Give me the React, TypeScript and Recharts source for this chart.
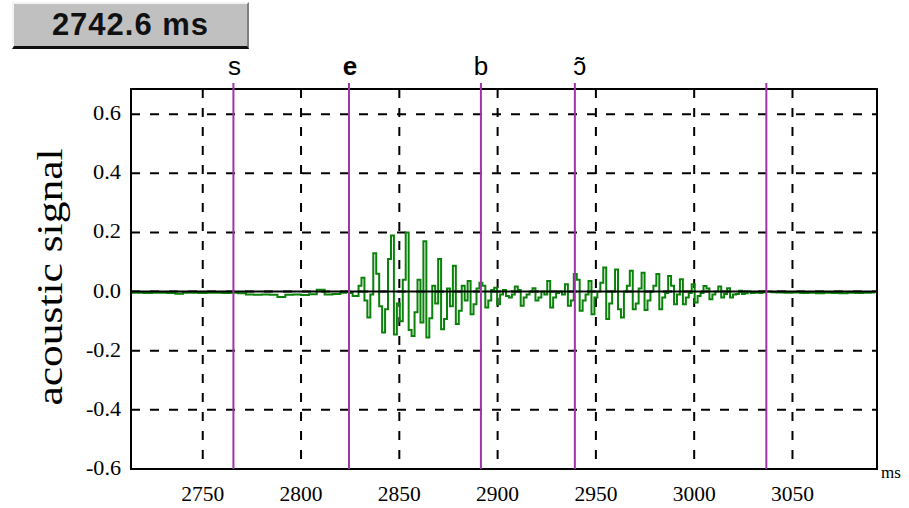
import React from 'react';
import {
  LineChart,
  Line,
  XAxis,
  YAxis,
  CartesianGrid,
  ReferenceLine,
  ReferenceArea,
} from 'recharts';

// time axis (ms) and amplitude axis
const X_DOMAIN: [number, number] = [2713.5, 3093];
const Y_DOMAIN: [number, number] = [-0.6, 0.685];
const xTicks = [2750, 2800, 2850, 2900, 2950, 3000, 3050];
const yTicks = [-0.6, -0.4, -0.2, 0, 0.2, 0.4, 0.6];

// segment boundaries and their phone labels
const boundaries = [2765.6, 2824.4, 2891.5, 2939.3, 3036.7];
const phones = ['s', 'e', 'b', 'ɔ̃', ''];

// silence / fricative before the vowel, one sample every 4 ms from 2714
const leadIn = [
  -0.004, -0.004, -0.005, -0.004, -0.004, -0.005, -0.007, -0.004, -0.004, -0.005,
  -0.004, -0.004, -0.005, -0.004, -0.006, -0.01, -0.011, -0.01, -0.011, -0.018,
  -0.011, -0.01, -0.012, -0.009, 0.006, -0.01, -0.008, -0.004,
];

// voiced part, one sample every 1.5 ms from 2824
const voiced = [
  0.0, -0.005, -0.015, -0.015, 0.02, 0.047, -0.03, -0.088, -0.01, 0.13,
  0.06, -0.05, -0.138, -0.06, 0.11, 0.19, -0.145, -0.04, -0.1, 0.04,
  0.2, -0.13, -0.15, -0.07, 0.04, -0.105, 0.17, -0.155, -0.09, 0.02,
  -0.04, 0.11, -0.127, -0.093, 0.01, -0.05, 0.087, -0.11, -0.065, 0.02,
  -0.03, 0.036, -0.077, -0.043, 0.01, 0.03, 0.02, -0.054, -0.03, 0.005,
  0.013, -0.043, -0.01, 0.005, -0.015, -0.02, -0.01, 0.017, 0.005, -0.048,
  -0.02, -0.01, 0.0, 0.011, -0.03, -0.02, 0.0, -0.01, 0.036, -0.054,
  -0.02, -0.005, 0.0, -0.01, 0.025, -0.048, -0.03, 0.059, 0.04, -0.065,
  -0.03, -0.01, 0.036, -0.077, -0.02, 0.0, 0.03, 0.081, -0.093, -0.04,
  0.0, 0.075, -0.06, -0.088, 0.0, 0.02, 0.07, -0.06, -0.04, 0.01,
  0.064, -0.062, -0.03, 0.0, 0.02, 0.059, -0.06, -0.02, -0.005, 0.053,
  0.02, -0.043, -0.01, 0.042, -0.043, -0.02, -0.005, 0.025, -0.037, -0.015,
  -0.005, 0.019, 0.01, -0.026, -0.01, 0.0, 0.017, -0.02, -0.008, 0.011,
  -0.02, -0.01, -0.008, 0.003, -0.008, -0.006, 0.0, -0.005, -0.004, -0.003,
  -0.005, -0.002, 0.0, 0.0,
];

// trailing silence, one sample every 4 ms from 3040
const tail = [
  -0.002, -0.003, -0.004, -0.003, -0.005, -0.004, -0.006, -0.004, -0.005, -0.006,
  -0.004, -0.005, -0.004, -0.003,
];

const segments = [
  { start: 2714, step: 4, values: leadIn },
  { start: 2824, step: 1.5, values: voiced },
  { start: 3040, step: 4, values: tail },
];

const signal = segments.flatMap((s) =>
  s.values.map((v, i) => ({ t: s.start + i * s.step, v })),
);

const PURPLE = '#a035a8';
const GREEN = '#0a820a';
const SERIF = "'Liberation Serif', 'Times New Roman', serif";
const SANS = "'Liberation Sans', 'DejaVu Sans', Arial, sans-serif";

// the amplitude labels are drawn a bit wider than the plain serif face
function labelWidth(s: string) {
  let w = 0;
  for (const c of s) w += c === '.' ? 6 : c === '-' ? 7 : 11;
  return w;
}

function YTick({ x, y, payload }: any) {
  const s = Number(payload.value).toFixed(1);
  return (
    <text
      x={x}
      y={y}
      dy={6}
      textAnchor="end"
      style={{ fontFamily: SERIF, fontSize: 20 }}
      fill="#000"
      textLength={labelWidth(s)}
      lengthAdjust="spacingAndGlyphs"
    >
      {s}
    </text>
  );
}

function PhoneLine({ x1, y1, y2, phone }: any) {
  const top = Math.min(y1, y2);
  const bottom = Math.max(y1, y2);
  const shift = phone === 'ɔ̃' ? 5 : phone === 'b' ? 0 : 1;
  return (
    <g>
      <line x1={x1} y1={top - 6} x2={x1} y2={bottom} stroke={PURPLE} strokeWidth={2} />
      {phone && (
        <text
          x={x1 + shift}
          y={top - 14}
          textAnchor="middle"
          style={{ fontFamily: SANS, fontSize: 26, fontWeight: phone === 'e' ? 700 : 400 }}
          fill="#000"
        >
          {phone}
        </text>
      )}
    </g>
  );
}

function AxisTitle({ viewBox }: any) {
  const cy = viewBox.y + viewBox.height / 2 - 2;
  return (
    <text
      transform={`translate(62, ${cy}) rotate(-90)`}
      textAnchor="middle"
      style={{ fontFamily: SERIF, fontSize: 36 }}
      fill="#000"
      textLength={257}
      lengthAdjust="spacingAndGlyphs"
    >
      acoustic signal
    </text>
  );
}

function UnitLabel({ viewBox }: any) {
  return (
    <text
      x={viewBox.x + viewBox.width + 4}
      y={viewBox.y + 9}
      style={{ fontFamily: SERIF, fontSize: 17 }}
      fill="#000"
    >
      ms
    </text>
  );
}

export default function App() {
  return (
    <div style={{ position: 'absolute', left: 0, top: 0, width: 909, height: 508, background: '#fff' }}>
      <div
        style={{
          position: 'absolute',
          left: 12,
          top: 2,
          width: 237,
          height: 47,
          boxSizing: 'border-box',
          background: '#c0c0c0',
          borderTop: '2px solid #f4f4f4',
          borderLeft: '2px solid #f4f4f4',
          borderRight: '2px solid #808080',
          borderBottom: '3px solid #111',
          display: 'flex',
          alignItems: 'center',
          justifyContent: 'center',
          fontFamily: SANS,
          fontWeight: 700,
          fontSize: 31,
          letterSpacing: 1,
          color: '#111',
        }}
      >
        2742.6 ms
      </div>
      <LineChart
        width={909}
        height={508}
        data={signal}
        margin={{ top: 89, right: 32, left: 0, bottom: 0 }}
      >
        <CartesianGrid
          xAxisId="bottom"
          stroke="#000"
          strokeWidth={2}
          strokeDasharray="9 10"
          horizontalValues={yTicks}
          verticalValues={xTicks}
        />
        <XAxis
          xAxisId="bottom"
          dataKey="t"
          type="number"
          domain={X_DOMAIN}
          allowDataOverflow
          ticks={xTicks}
          height={39}
          axisLine={false}
          tickLine={false}
          tickSize={0}
          tickMargin={17}
          tick={{ fill: '#000', fontFamily: SERIF, fontSize: 21, textLength: 43, lengthAdjust: 'spacingAndGlyphs' }}
          label={{ content: (p: any) => <UnitLabel {...p} /> }}
        />
        <XAxis
          xAxisId="top"
          orientation="top"
          dataKey="t"
          type="number"
          domain={X_DOMAIN}
          allowDataOverflow
          ticks={xTicks}
          height={0}
          mirror
          axisLine={false}
          tick={false}
          tickSize={10}
          tickLine={{ stroke: '#000', strokeWidth: 2 }}
        />
        <YAxis
          type="number"
          domain={Y_DOMAIN}
          allowDataOverflow
          ticks={yTicks}
          width={131}
          axisLine={false}
          tickLine={false}
          tickSize={0}
          tickMargin={10}
          tick={(p: any) => <YTick {...p} />}
          label={{ content: (p: any) => <AxisTitle {...p} /> }}
        />
        <Line
          xAxisId="bottom"
          dataKey="v"
          type="step"
          stroke={GREEN}
          strokeWidth={2}
          dot={false}
          isAnimationActive={false}
        />
        <ReferenceLine xAxisId="bottom" y={0} stroke="#000" strokeWidth={2} />
        {boundaries.map((b, i) => (
          <ReferenceLine
            key={b}
            xAxisId="bottom"
            x={b}
            ifOverflow="visible"
            shape={(p: any) => <PhoneLine {...p} phone={phones[i]} />}
          />
        ))}
        <ReferenceArea
          xAxisId="bottom"
          x1={X_DOMAIN[0]}
          x2={X_DOMAIN[1]}
          y1={Y_DOMAIN[0]}
          y2={Y_DOMAIN[1]}
          ifOverflow="visible"
          fill="none"
          stroke="#000"
          strokeWidth={2}
        />
      </LineChart>
    </div>
  );
}
